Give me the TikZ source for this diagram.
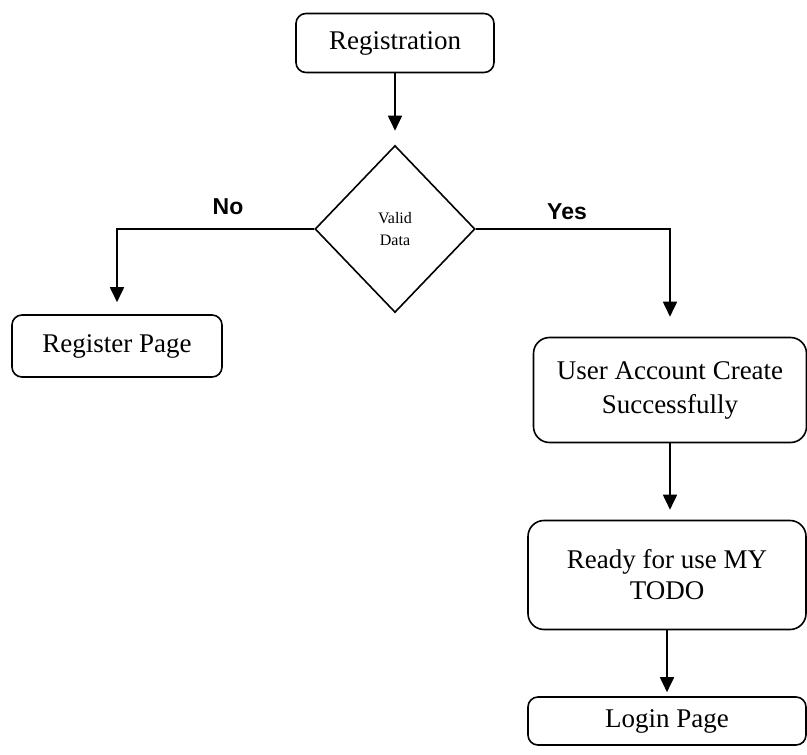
\documentclass[tikz,border=0pt]{standalone}
\usepackage{fontspec}
\setmainfont{Liberation Serif}
\newfontfamily\labelfont{Liberation Sans}
\usetikzlibrary{shapes.geometric,arrows.meta}

\tikzset{
  box/.style={draw, line width=1.6pt, rounded corners=10pt, align=center,
    inner sep=0pt, font=\fontsize{27}{34}\selectfont},
  bigbox/.style={box, rounded corners=16pt},
  decision/.style={draw, diamond, line width=1.6pt, inner sep=0pt, align=center,
    minimum width=160pt, minimum height=167pt, font=\fontsize{16}{22}\selectfont},
  flow/.style={line width=1.8pt, -{Triangle[width=14pt,length=15pt]}},
  branch/.style={font=\labelfont\bfseries\fontsize{23}{26}\selectfont}
}

\begin{document}
\begin{tikzpicture}[x=1pt, y=-1pt]
  \useasboundingbox (0,0) rectangle (807,755);

  % process steps and the decision
  \node[box, minimum width=198pt, minimum height=59pt] (reg) at (395,43) {Registration};
  \node[decision] (valid) at (395,229) {Valid\\Data};
  \node[box, minimum width=210pt, minimum height=62pt] (regpage) at (117,346) {Register Page};
  \node[bigbox, minimum width=273pt, minimum height=105pt] (account) at (670,390) {User Account Create\\Successfully};
  \node[bigbox, minimum width=278pt, minimum height=109pt, font=\fontsize{27}{31}\selectfont] (ready) at (667,575) {Ready for use MY\\TODO};
  \node[box, minimum width=278pt, minimum height=48pt] (login) at (667,721) {Login Page};

  % branch labels
  \node[branch] (no) at (228,207) {No};
  \node[branch] (yes) at (567,212) {Yes};

  % connectors
  \draw[flow, shorten >=14pt] (reg.south) -- (valid.north);
  \draw[flow, shorten >=12pt] (valid.west) -| (regpage.north);
  \draw[flow, shorten >=20pt] (valid.east) -| (account.north);
  \draw[flow, shorten >=10pt] (account.south) -- (account.south |- ready.north);
  \draw[flow, shorten >=4pt] (ready.south) -- (login.north);
\end{tikzpicture}
\end{document}
